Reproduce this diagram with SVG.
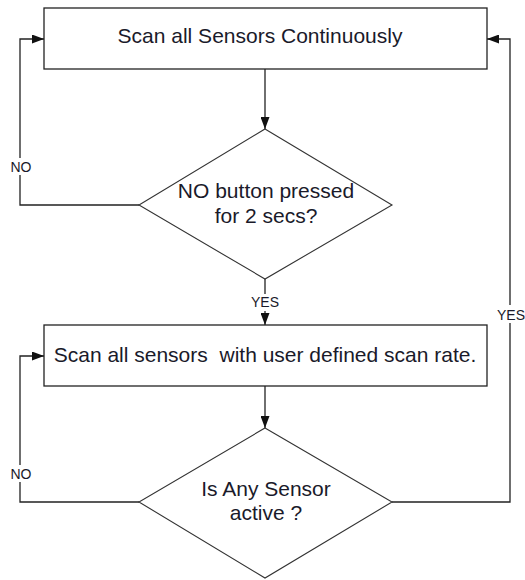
<svg xmlns="http://www.w3.org/2000/svg" width="525" height="580" viewBox="0 0 525 580">
<style>
.box{fill:#fff;stroke:#222;stroke-width:1.3}
.dia{fill:#fff;stroke:#333;stroke-width:1.1}
.t{font-family:"Liberation Sans",Arial,sans-serif;font-size:21px;fill:#1a1a2a;text-anchor:middle}
.lbl{font-family:"Liberation Sans",Arial,sans-serif;font-size:14px;fill:#1a1a2a}
.c{fill:none;stroke:#222;stroke-width:1.3}
.mask{fill:#fff}
</style>
<defs>
<marker id="ah" markerUnits="userSpaceOnUse" markerWidth="12" markerHeight="9" refX="12" refY="4.5" orient="auto">
<path d="M0,0 L12,4.5 L0,9 z" fill="#111"/>
</marker>
</defs>
<rect width="525" height="580" fill="#fff"/>
<g id="connectors">
<path class="c" d="M265,69 V129" marker-end="url(#ah)"/>
<path class="c" d="M139,205 H20 V39 H44" marker-end="url(#ah)"/>
<path class="c" d="M265,279 V325" marker-end="url(#ah)"/>
<path class="c" d="M265,386 V428" marker-end="url(#ah)"/>
<path class="c" d="M139,502 H20 V356 H44" marker-end="url(#ah)"/>
<path class="c" d="M392,502 H510 V39 H487" marker-end="url(#ah)"/>
<rect class="mask" x="8" y="158" width="26" height="17"/>
<text class="lbl" x="21" y="172" text-anchor="middle">NO</text>
<rect class="mask" x="8" y="465" width="26" height="17"/>
<text class="lbl" x="21" y="479" text-anchor="middle">NO</text>
<rect class="mask" x="250" y="294" width="30" height="17"/>
<text class="lbl" x="265" y="307" text-anchor="middle">YES</text>
<rect class="mask" x="496" y="305" width="29" height="18"/>
<text class="lbl" x="497" y="320">YES</text>
</g>
<g id="n1">
<rect class="box" x="44" y="8" width="443" height="61"/>
<text class="t" x="260" y="43">Scan all Sensors Continuously</text>
</g>
<g id="n2">
<polygon class="dia" points="265,129 392,205 265,279 139,205"/>
<text class="t" x="266" y="198">NO button pressed</text>
<text class="t" x="266" y="223">for 2 secs?</text>
</g>
<g id="n3">
<rect class="box" x="44" y="325" width="443" height="61"/>
<text class="t" x="265" y="362" xml:space="preserve">Scan all sensors  with user defined scan rate.</text>
</g>
<g id="n4">
<polygon class="dia" points="265,428 392,502 265,578 139,502"/>
<text class="t" x="266" y="496">Is Any Sensor</text>
<text class="t" x="266" y="520">active ?</text>
</g>
</svg>
